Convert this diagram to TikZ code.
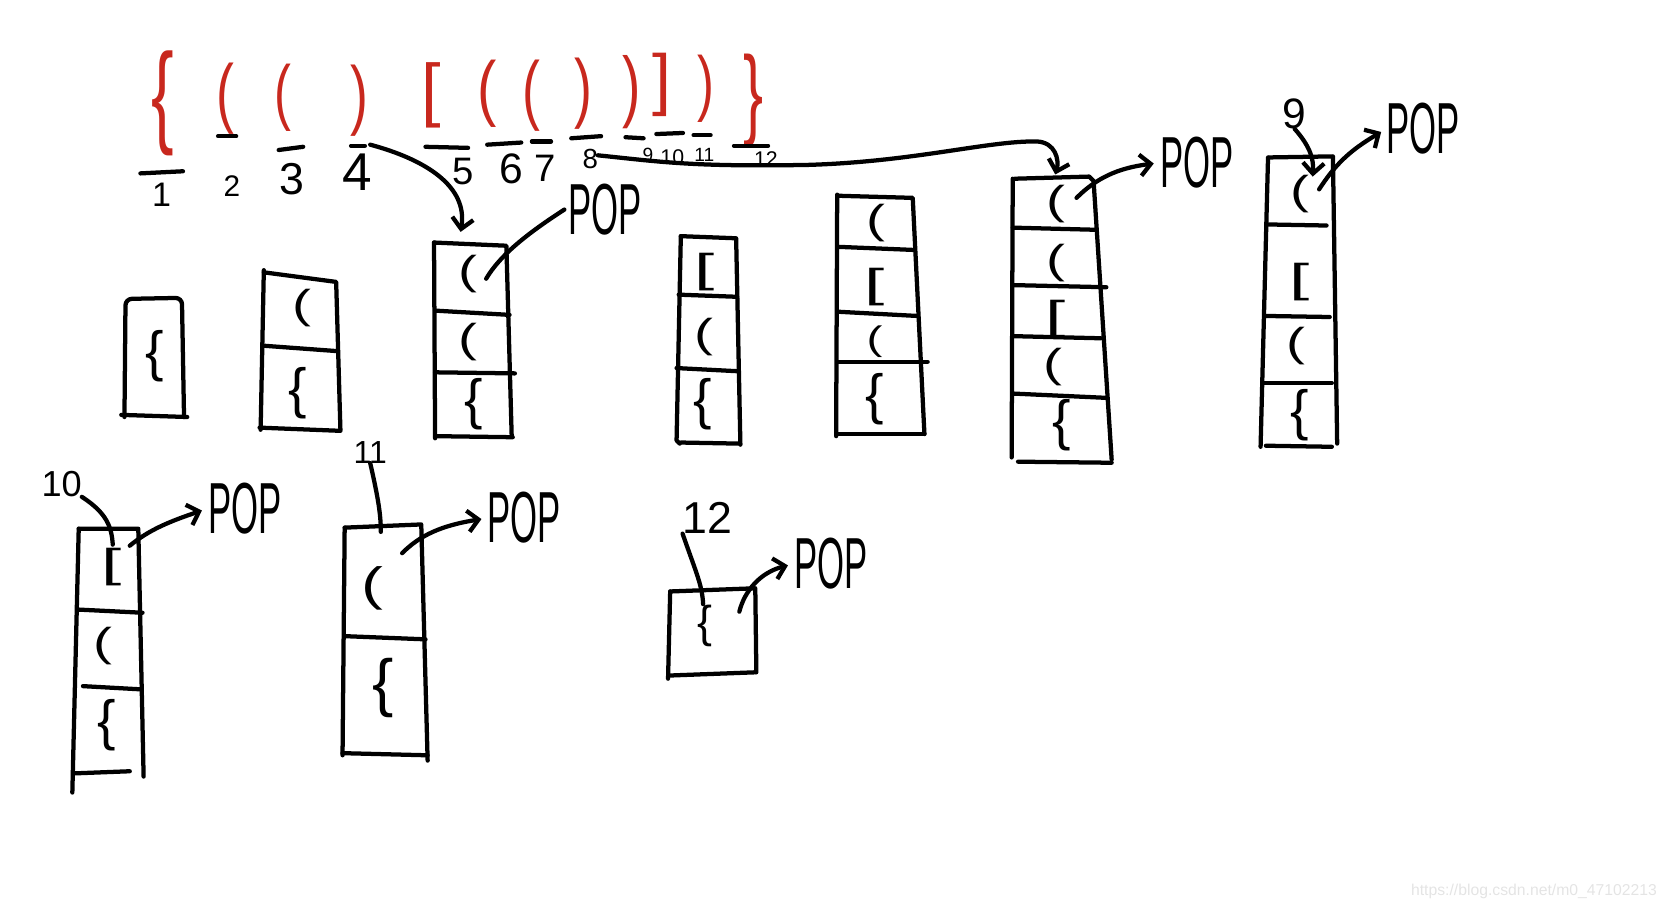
\documentclass[tikz,border=0pt]{standalone}
\usepackage{fontspec}
\setmainfont{Liberation Sans}
\usetikzlibrary{arrows.meta}
\definecolor{hred}{RGB}{200,40,30}
\definecolor{wmark}{RGB}{228,228,228}
\newcommand\nrw[2]{\scalebox{#1}[1]{#2}}
\newcommand\fs[1]{\fontsize{#1}{#1}\selectfont}
\begin{document}
\begin{tikzpicture}[x=0.5pt,y=-0.5pt,
  hand/.style={line width=2pt, line cap=round, line join=round},
  harr/.style={hand, -{Straight Barb[length=5pt,width=10pt]}},
  glyph/.style={inner sep=0pt, outer sep=0pt},
  rb/.style={glyph, text=hred},
  sp/.style={glyph, font=\fs{19}},
  sb/.style={glyph, font=\fs{26}},
  sk/.style={glyph, font=\fs{19}},
  pop/.style={glyph, font=\fs{34}},
  num/.style={glyph}]
\useasboundingbox (0,0) rectangle (1568,856);

% ---- top sequence (red) ----
\node[rb, font=\fs{53}] (b1) at (153,97) {\nrw{0.6}{\{}};
\node[rb, font=\fs{36}] (b2) at (212,93) {\nrw{0.7}{(}};
\node[rb, font=\fs{34}] (b3) at (266,92) {\nrw{0.7}{(}};
\node[rb, font=\fs{36}] (b4) at (338,95) {\nrw{0.7}{)}};
\node[rb, font=\fs{33}] (b5) at (405,90) {[};
\node[rb, font=\fs{34}] (b6) at (458,88) {\nrw{0.8}{(}};
\node[rb, font=\fs{36}] (b7) at (500,90) {\nrw{0.7}{(}};
\node[rb, font=\fs{36}] (b8) at (548,88) {\nrw{0.7}{)}};
\node[rb, font=\fs{37}] (b9) at (594,87) {\nrw{0.7}{)}};
\node[rb, font=\fs{32}] (b10) at (622,80) {]};
\node[rb, font=\fs{34}] (b11) at (664,83) {\nrw{0.7}{)}};
\node[rb, font=\fs{47}] (b12) at (708,95) {\nrw{0.6}{\}}};

% dashes
\draw[hand] (132,163) -- (172,161);
\draw[hand] (205,128) -- (222,128);
\draw[hand] (262,141) -- (285,138);
\draw[hand] (330,137) -- (343,137);
\draw[hand] (400,138) -- (440,139);
\draw[hand] (458,136) -- (490,134);
\draw[hand] (500,133) -- (518,133);
\draw[hand] (537,130) -- (565,128);
\draw[hand] (588,129) -- (605,130);
\draw[hand] (617,126) -- (642,125);
\draw[hand] (652,127) -- (668,127);
\draw[hand] (690,137) -- (722,137);

% numbers
\node[num, font=\fs{16}] (n1) at (152,183) {1};
\node[num, font=\fs{14}] (n2) at (218,175) {2};
\node[num, font=\fs{21}] (n3) at (274,168) {3};
\node[num, font=\fs{25}] (n4) at (336,162) {4};
\node[num, font=\fs{18}] (n5) at (435,161) {5};
\node[num, font=\fs{20}] (n6) at (481,159) {6};
\node[num, font=\fs{18}] (n7) at (512,158) {7};
\node[num, font=\fs{13}] (n8) at (555,149) {8};
\node[num, font=\fs{9}] (n9) at (609,146) {9};
\node[num, font=\fs{10}] (n10) at (632,148) {10};
\node[num, font=\fs{9}] (n11) at (662,146) {11};
\node[num, font=\fs{10}] (n12) at (720,150) {12};

% ---- stack 1 ----
\draw[hand, rounded corners=3pt] (117,392) -- (118,281) -- (171,280) -- (173,392);
\draw[hand] (114,390) -- (176,392);
\node[sb] (s1a) at (145,335) {\{};

% ---- stack 2 ----
\draw[hand] (248,254) -- (245,404);
\draw[hand] (248,256) -- (316,265) -- (320,404);
\draw[hand] (248,325) -- (316,330);
\draw[hand] (244,402) -- (320,405);
\node[sp] (s2a) at (284,290) {\nrw{1.4}{(}};
\node[sb] (s2b) at (280,370) {\{};

% ---- stack 3 ----
\draw[hand] (408,228) -- (409,412);
\draw[hand] (408,228) -- (476,231) -- (481,410);
\draw[hand] (409,292) -- (479,296);
\draw[hand] (409,350) -- (484,351);
\draw[hand] (409,410) -- (482,411);
\node[sp] (s3a) at (440,258) {\nrw{1.4}{(}};
\node[sp] (s3b) at (440,322) {\nrw{1.4}{(}};
\node[sb] (s3c) at (445,380) {\{};
\node[pop] (pop3) at (569,197) {\nrw{0.48}{POP}};

% ---- stack 4 ----
\draw[hand] (640,222) -- (636,414) -- (639,417);
\draw[hand] (640,222) -- (692,224) -- (696,418);
\draw[hand] (638,277) -- (693,279);
\draw[hand] (636,346) -- (694,349);
\draw[hand] (640,416) -- (694,417);
\node[sk] (s4a) at (662,256) {\nrw{1.8}{[}};
\node[sp] (s4b) at (662,317) {\nrw{1.4}{(}};
\node[sb] (s4c) at (661,380) {\{};

% ---- stack 5 ----
\draw[hand] (787,183) -- (786,410);
\draw[hand] (787,184) -- (858,186) -- (869,408);
\draw[hand] (787,232) -- (860,235);
\draw[hand] (787,293) -- (862,297);
\draw[hand] (788,340) -- (872,340);
\draw[hand] (786,408) -- (869,408);
\node[sp] (s5a) at (823,210) {\nrw{1.4}{(}};
\node[sk] (s5b) at (822,270) {\nrw{1.8}{[}};
\node[sp, font=\fs{16}] (s5c) at (822,321) {\nrw{1.4}{(}};
\node[sb] (s5d) at (822,375) {\{};

% ---- stack 6 ----
\draw[hand] (952,168) -- (951,430);
\draw[hand] (954,168) -- (1024,166) -- (1028,170) -- (1045,432);
\draw[hand] (952,214) -- (1030,216);
\draw[hand] (952,268) -- (1040,270);
\draw[hand] (953,316) -- (1035,318);
\draw[hand] (953,370) -- (1040,374);
\draw[hand] (957,434) -- (1045,435);
\node[sp] (s6a) at (993,192) {\nrw{1.4}{(}};
\node[sp] (s6b) at (993,247) {\nrw{1.4}{(}};
\node[sk] (s6c) at (992,300) {\nrw{1.8}{[}};
\node[sp] (s6d) at (990,345) {\nrw{1.4}{(}};
\node[sb] (s6e) at (998,400) {\{};
\node[pop] (pop6) at (1125,153) {\nrw{0.48}{POP}};

% ---- stack 7 ----
\draw[hand] (1192,148) -- (1185,420);
\draw[hand] (1193,148) -- (1253,147) -- (1257,417);
\draw[hand] (1192,211) -- (1247,212);
\draw[hand] (1189,297) -- (1250,298);
\draw[hand] (1187,360) -- (1252,360);
\draw[hand] (1190,419) -- (1252,420);
\node[sp] (s7a) at (1222,182) {\nrw{1.4}{(}};
\node[sk] (s7b) at (1222,265) {\nrw{1.8}{[}};
\node[sp] (s7c) at (1218,325) {\nrw{1.4}{(}};
\node[sb] (s7d) at (1222,390) {\{};
\node[num, font=\fs{20}] (l9) at (1217,107) {9};
\node[pop] (pop7) at (1338,121) {\nrw{0.48}{POP}};

% ---- stack 8 ----
\draw[hand] (74,497) -- (68,745);
\draw[hand] (74,497) -- (130,497) -- (135,730);
\draw[hand] (73,573) -- (134,576);
\draw[hand] (78,645) -- (132,648);
\draw[hand] (70,727) -- (122,725);
\node[sk] (s8a) at (105,533) {\nrw{1.8}{[}};
\node[sp] (s8b) at (97,607) {\nrw{1.4}{(}};
\node[sb] (s8c) at (100,682) {\{};
\node[num, font=\fs{17}] (l10) at (58,455) {10};
\node[pop] (pop8) at (230,478) {\nrw{0.48}{POP}};

% ---- stack 9 ----
\draw[hand] (324,496) -- (322,710);
\draw[hand] (324,496) -- (396,493) -- (402,715);
\draw[hand] (324,598) -- (400,601);
\draw[hand] (322,708) -- (402,710);
\node[sp, font=\fs{22}] (s9a) at (350,553) {\nrw{1.4}{(}};
\node[sb, font=\fs{30}] (s9b) at (360,647) {\{};
\node[num, font=\fs{15}] (l11) at (348,425) {11};
\node[pop] (pop9) at (493,487) {\nrw{0.48}{POP}};

% ---- stack 10 ----
\draw[hand] (630,556) -- (628,638);
\draw[hand] (630,556) -- (710,553) -- (711,632);
\draw[hand] (630,635) -- (710,632);
\node[sb, font=\fs{21}] (s10a) at (663,588) {\{};
\node[num, font=\fs{21}] (l12) at (665,487) {12};
\node[pop] (pop10) at (781,530) {\nrw{0.48}{POP}};

% ---- connector ends ----
\coordinate (a4) at (348,136);
\coordinate (t3) at (433,218);
\coordinate (a8) at (562,146);
\coordinate (t6) at (992,164);
\coordinate (t7) at (1234,166);
\coordinate (c3) at (457,262);
\coordinate (c6) at (1012,186);
\coordinate (c7) at (1240,178);
\coordinate (c8) at (122,513);
\coordinate (c9) at (378,520);
\coordinate (c10) at (695,575);
\coordinate (e10) at (106,512);
\coordinate (e11) at (358,500);
\coordinate (e12) at (661,568);

% ---- connectors ----
\draw[harr] (a4) .. controls (400,150) and (440,175) .. (t3);
\draw[harr] (a8) .. controls (620,152) and (650,157) .. (760,155)
  .. controls (860,152) and (930,132) .. (975,133)
  .. controls (992,134) and (996,150) .. (t6);
\draw[harr] (l9.south) .. controls (1232,138) and (1235,150) .. (t7);
\draw[hand] (c3) .. controls (470,240) and (495,220) .. ([xshift=-2pt]pop3.west);
\draw[harr, shorten >=3pt] (c6) .. controls (1030,168) and (1050,158) .. (pop6.west);
\draw[harr, shorten >=3pt] (c7) .. controls (1255,155) and (1268,142) .. (pop7.west);
\draw[harr, shorten >=3pt] (c8) .. controls (140,498) and (160,490) .. (pop8.west);
\draw[harr, shorten >=3pt] (c9) .. controls (395,503) and (415,494) .. (pop9.west);
\draw[harr, shorten >=3pt] (c10) .. controls (700,555) and (715,538) .. (pop10.west);
\draw[hand] (l10.south east) .. controls (100,482) and (105,495) .. (e10);
\draw[hand] (l11.south) .. controls (356,470) and (358,485) .. (e11);
\draw[hand] (l12.south west) .. controls (655,540) and (660,550) .. (e12);

% watermark
\node[glyph, text=wmark, font=\fs{7.4}] (wm) at (1442,838) {https://blog.csdn.net/m0\_47102213};
\end{tikzpicture}
\end{document}
